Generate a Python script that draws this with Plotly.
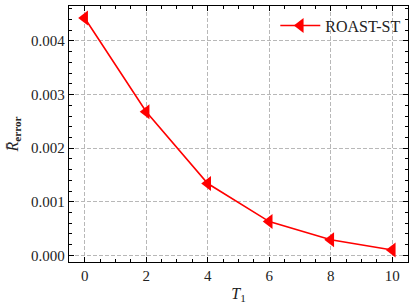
import plotly.graph_objects as go

t1 = [0, 2, 4, 6, 8, 10]
r_error = [0.00443, 0.00268, 0.00134, 0.00063, 0.00029, 0.00010]
series_name = "ROAST-ST"
x_ticks = [0, 2, 4, 6, 8, 10]
y_ticks = [0.000, 0.001, 0.002, 0.003, 0.004]
y_tick_labels = ["0.000", "0.001", "0.002", "0.003", "0.004"]

FONT = "Liberation Serif, DejaVu Serif, serif"

fig = go.Figure()
fig.add_trace(go.Scatter(
    x=t1, y=r_error, mode="lines+markers", name=series_name,
    line=dict(color="#ff0000", width=1.6),
    marker=dict(symbol="triangle-left", size=13, color="#ff0000",
                line=dict(width=0)),
))

axis_common = dict(
    showline=True, linecolor="black", linewidth=1.4, mirror="allticks",
    ticks="inside", ticklen=5, tickwidth=1.1, tickcolor="black",
    showgrid=True, gridcolor="#b8b8b8", griddash="4px,2px", gridwidth=0.8,
    zeroline=False,
    tickfont=dict(family=FONT, size=15, color="#222222"),
)

fig.update_xaxes(
    range=[-0.51, 10.51], tickvals=x_ticks,
    minor=dict(dtick=0.5, ticks="inside", ticklen=3, tickcolor="black",
               tickwidth=0.9, showgrid=False),
    title=dict(text="<i>T</i><sub>1</sub>", font=dict(family=FONT, size=16, color="#222222"), standoff=4),
    **axis_common,
)
fig.update_yaxes(
    range=[-0.000124, 0.004653], tickvals=y_ticks, ticktext=y_tick_labels,
    minor=dict(dtick=0.0002, ticks="inside", ticklen=3, tickcolor="black",
               tickwidth=0.9, showgrid=False),
    title=dict(text="<i>R\u0304</i><sub><b>error</b></sub>", font=dict(family=FONT, size=16, color="#222222"), standoff=8),
    **axis_common,
)

fig.update_layout(
    width=415, height=308,
    margin=dict(l=69, r=7, t=6, b=46),
    plot_bgcolor="white", paper_bgcolor="white",
    showlegend=True,
    legend=dict(x=0.995, y=0.99, xanchor="right", yanchor="top",
                bgcolor="rgba(255,255,255,0)", borderwidth=0,
                font=dict(family=FONT, size=16, color="#222222"),
                itemwidth=40),
)

fig.write_html("out.html", config={"displayModeBar": False},
               post_script="document.body.style.margin='0';")
